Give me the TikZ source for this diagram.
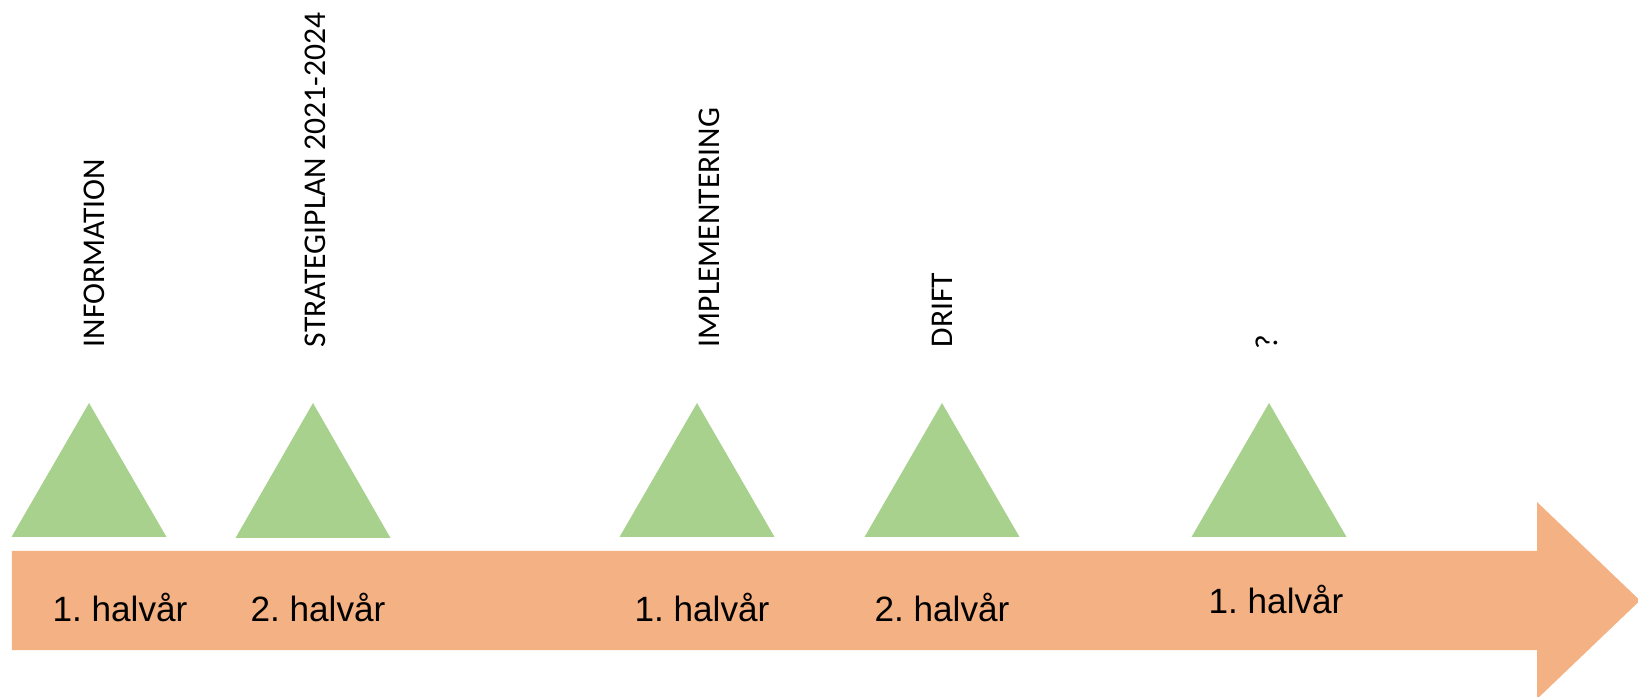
\documentclass[tikz,border=0pt]{standalone}
\usepackage{fontspec}
\setmainfont{Liberation Sans}
\newfontfamily\calibri{Carlito}
\definecolor{pilorange}{HTML}{F4B183}
\definecolor{trekant}{HTML}{A9D18E}
\frenchspacing

\begin{document}
\begin{tikzpicture}[
	fas/.style = {rotate=90, anchor=west, inner sep=0pt, font=\calibri\fontsize{9}{11}\selectfont},
	halvar/.style = {inner sep=0pt, font=\fontsize{10}{12}\selectfont},
	topp/.style = {fill=trekant}]
		\useasboundingbox (0,0) rectangle (16.38,6.96);
		% Pil
		\fill[pilorange] (0.12,0.46) -- (15.37,0.46) -- (15.37,-0.03) -- (16.40,0.955)
			-- (15.37,1.94) -- (15.37,1.45) -- (0.12,1.45) -- cycle;
		% Trekanter
		\fill[topp] (0.115,1.59) -- (0.89,2.93) -- (1.665,1.59) -- cycle;	% information
		\fill[topp] (2.355,1.58) -- (3.13,2.93) -- (3.905,1.58) -- cycle;	% strategiplan
		\fill[topp] (6.195,1.59) -- (6.97,2.93) -- (7.745,1.59) -- cycle;	% implementering
		\fill[topp] (8.645,1.59) -- (9.42,2.93) -- (10.195,1.59) -- cycle;	% drift
		\fill[topp] (11.915,1.59) -- (12.69,2.93) -- (13.465,1.59) -- cycle;	% ?
		% Faser
		\node[fas] (info) at (0.94,3.48) {INFORMATION};
		\node[fas] (strat) at (3.15,3.48) {STRATEGIPLAN 2021-2024};
		\node[fas] (impl) at (7.09,3.48) {IMPLEMENTERING};
		\node[fas] (drift) at (9.42,3.48) {DRIFT};
		\node[fas] (okand) at (12.67,3.46) {?};
		% Halvår
		\node[halvar] (h1) at (1.20,0.88) {1. halvår};
		\node[halvar] (h2) at (3.18,0.88) {2. halvår};
		\node[halvar] (h3) at (7.02,0.88) {1. halvår};
		\node[halvar] (h4) at (9.42,0.88) {2. halvår};
		\node[halvar] (h5) at (12.76,0.96) {1. halvår};
\end{tikzpicture}
\end{document}
